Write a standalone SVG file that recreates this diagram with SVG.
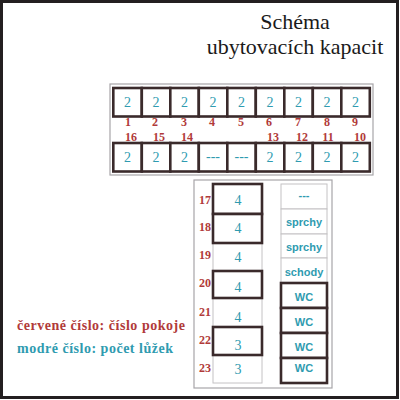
<svg xmlns="http://www.w3.org/2000/svg" width="400" height="400" viewBox="0 0 400 400">
<style>
.frame{fill:#fff;stroke:#231f20;stroke-width:3}
.panel{fill:none;stroke:#a7a5a8;stroke-width:1.2}
.room{fill:#fff;stroke:#3a2a2b;stroke-width:2.6}
.thin{fill:#fff;stroke:#c4c2c4;stroke-width:1}
.b{fill:#2f9bb0;font-family:"Liberation Serif",serif;font-size:14px;text-anchor:middle}
.r{fill:#b13a3a;font-family:"Liberation Serif",serif;font-size:12px;font-weight:bold;text-anchor:middle}
.s{fill:#2f9bb0;font-family:"Liberation Sans",sans-serif;font-size:11px;font-weight:bold;text-anchor:middle}
.t{fill:#1a1a1a;font-family:"Liberation Serif",serif;font-size:22px;text-anchor:middle}
</style>
<rect class="frame" x="1.5" y="1.5" width="396" height="396"/>
<g id="title">
<text class="t" x="295" y="29">Schéma</text>
<text class="t" x="295" y="54">ubytovacích kapacit</text>
</g>
<rect class="panel" x="110" y="84" width="263" height="91"/>
<rect class="panel" x="194" y="180" width="138" height="208"/>
<g id="top-row">
<g id="room1"><rect class="room" x="113.3" y="88" width="28.5" height="28.5"/><text class="b" x="127.5" y="107">2</text></g>
<g id="room2"><rect class="room" x="141.8" y="88" width="28.5" height="28.5"/><text class="b" x="156" y="107">2</text></g>
<g id="room3"><rect class="room" x="170.3" y="88" width="28.5" height="28.5"/><text class="b" x="184.5" y="107">2</text></g>
<g id="room4"><rect class="room" x="198.8" y="88" width="28.5" height="28.5"/><text class="b" x="213" y="107">2</text></g>
<g id="room5"><rect class="room" x="227.3" y="88" width="28.5" height="28.5"/><text class="b" x="241.5" y="107">2</text></g>
<g id="room6"><rect class="room" x="255.8" y="88" width="28.5" height="28.5"/><text class="b" x="270" y="107">2</text></g>
<g id="room7"><rect class="room" x="284.3" y="88" width="28.5" height="28.5"/><text class="b" x="298.5" y="107">2</text></g>
<g id="room8"><rect class="room" x="312.8" y="88" width="28.5" height="28.5"/><text class="b" x="327" y="107">2</text></g>
<g id="room9"><rect class="room" x="341.3" y="88" width="28.5" height="28.5"/><text class="b" x="355.5" y="107">2</text></g>
</g>
<g id="top-numbers">
<text class="r" x="128" y="126">1</text>
<text class="r" x="155" y="126">2</text>
<text class="r" x="184" y="126">3</text>
<text class="r" x="212" y="126">4</text>
<text class="r" x="241" y="126">5</text>
<text class="r" x="269" y="126">6</text>
<text class="r" x="298" y="126">7</text>
<text class="r" x="327" y="126">8</text>
<text class="r" x="355" y="126">9</text>
<text class="r" x="131" y="140.5">16</text>
<text class="r" x="159" y="140.5">15</text>
<text class="r" x="187" y="140.5">14</text>
<text class="r" x="273" y="140.5">13</text>
<text class="r" x="302" y="140.5">12</text>
<text class="r" x="328" y="140.5">11</text>
<text class="r" x="360" y="140.5">10</text>
</g>
<g id="bottom-row">
<g id="room16"><rect class="room" x="113.3" y="143" width="28.5" height="28.5"/><text class="b" x="127.5" y="162">2</text></g>
<g id="room15"><rect class="room" x="141.8" y="143" width="28.5" height="28.5"/><text class="b" x="156" y="162">2</text></g>
<g id="room14"><rect class="room" x="170.3" y="143" width="28.5" height="28.5"/><text class="b" x="184.5" y="162">2</text></g>
<g id="empty1"><rect class="room" x="198.8" y="143" width="28.5" height="28.5"/><text class="b" x="213" y="161">---</text></g>
<g id="empty2"><rect class="room" x="227.3" y="143" width="28.5" height="28.5"/><text class="b" x="241.5" y="161">---</text></g>
<g id="room13"><rect class="room" x="255.8" y="143" width="28.5" height="28.5"/><text class="b" x="270" y="162">2</text></g>
<g id="room12"><rect class="room" x="284.3" y="143" width="28.5" height="28.5"/><text class="b" x="298.5" y="162">2</text></g>
<g id="room11"><rect class="room" x="312.8" y="143" width="28.5" height="28.5"/><text class="b" x="327" y="162">2</text></g>
<g id="room10"><rect class="room" x="341.3" y="143" width="28.5" height="28.5"/><text class="b" x="355.5" y="162">2</text></g>
</g>
<g id="left-column">
<g id="room19"><rect class="thin" x="213" y="243" width="49" height="28"/><text class="b" x="238" y="262">4</text><text class="r" x="205" y="259">19</text></g>
<g id="room21"><rect class="thin" x="213" y="298" width="49" height="29"/><text class="b" x="238" y="322">4</text><text class="r" x="205" y="316">21</text></g>
<g id="room23"><rect class="thin" x="213" y="355" width="49" height="28"/><text class="b" x="238" y="374">3</text><text class="r" x="205" y="372">23</text></g>
<g id="room17"><rect class="room" x="213" y="184" width="49" height="30"/><text class="b" x="238" y="205">4</text><text class="r" x="205" y="204">17</text></g>
<g id="room18"><rect class="room" x="213" y="214" width="49" height="29"/><text class="b" x="238" y="233">4</text><text class="r" x="205" y="231">18</text></g>
<g id="room20"><rect class="room" x="213" y="271" width="49" height="27"/><text class="b" x="238" y="292">4</text><text class="r" x="205" y="287">20</text></g>
<g id="room22"><rect class="room" x="213" y="327" width="49" height="28"/><text class="b" x="238" y="350">3</text><text class="r" x="205" y="344">22</text></g>
</g>
<g id="right-column">
<g id="blank"><rect class="thin" x="281" y="184" width="46" height="25"/><text class="s" x="304" y="199">---</text></g>
<g id="sprchy1"><rect class="thin" x="281" y="209" width="46" height="25"/><text class="s" x="304" y="226">sprchy</text></g>
<g id="sprchy2"><rect class="thin" x="281" y="234" width="46" height="24"/><text class="s" x="304" y="251">sprchy</text></g>
<g id="schody"><rect class="thin" x="281" y="258" width="46" height="25"/><text class="s" x="304" y="276">schody</text></g>
<g id="wc1"><rect class="room" x="281" y="283" width="46" height="25"/><text class="s" x="304" y="301">WC</text></g>
<g id="wc2"><rect class="room" x="281" y="308" width="46" height="25"/><text class="s" x="304" y="326">WC</text></g>
<g id="wc3"><rect class="room" x="281" y="333" width="46" height="25"/><text class="s" x="304" y="351">WC</text></g>
<g id="wc4"><rect class="room" x="281" y="358" width="46" height="25"/><text class="s" x="304" y="372">WC</text></g>
</g>
<g id="legend">
<text x="17" y="330" fill="#b13a3a" font-family="'Liberation Serif',serif" font-size="14" font-weight="bold" textLength="168">červené číslo: číslo pokoje</text>
<text x="17" y="353" fill="#2f9bb0" font-family="'Liberation Serif',serif" font-size="14" font-weight="bold" textLength="156">modré číslo: počet lůžek</text>
</g>
<g id="connectors"/>
</svg>
